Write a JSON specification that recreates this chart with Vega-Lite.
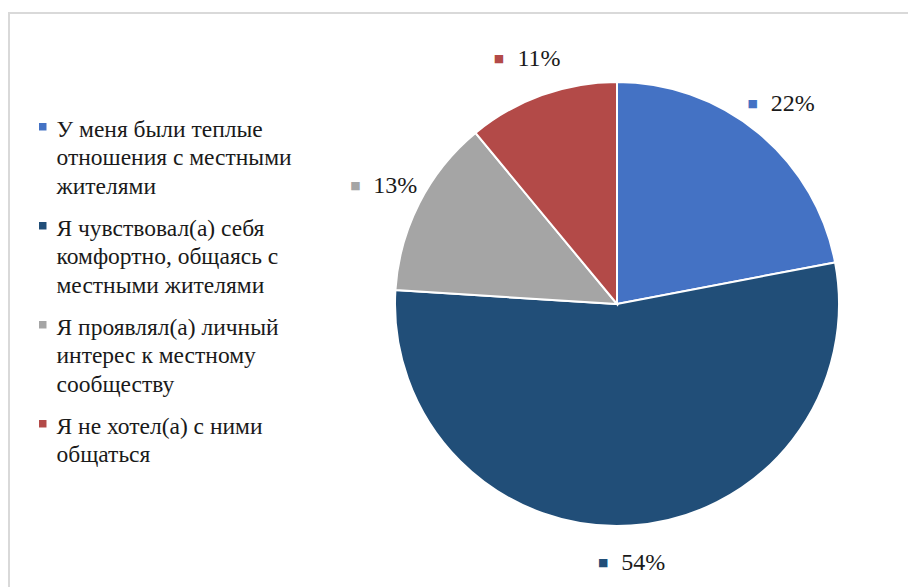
{
  "$schema": "https://vega.github.io/schema/vega-lite/v6.json",
  "width": 1216,
  "height": 582,
  "autosize": {"type": "none"},
  "padding": {"left": 9, "top": 13, "right": 0, "bottom": 0},
  "background": "white",
  "config": {"view": {"stroke": null}, "style": {"guide-label": {"lineHeight": 28.5, "dy": -9}}},
  "data": {"values": [
    {"idx": 1, "category": "У меня были теплые отношения с местными жителями", "value": 22, "label": "22%"},
    {"idx": 2, "category": "Я чувствовал(а) себя комфортно, общаясь с местными жителями", "value": 54, "label": "54%"},
    {"idx": 3, "category": "Я проявлял(а) личный интерес к местному сообществу", "value": 13, "label": "13%"},
    {"idx": 4, "category": "Я не хотел(а) с ними общаться", "value": 11, "label": "11%"}
  ]},
  "layer": [
    {
      "data": {"values": [{"frame": 1}]},
      "mark": {"type": "rect", "fill": null, "stroke": "#d9d9d9", "strokeWidth": 2},
      "encoding": {}
    },
    {
      "mark": {"type": "arc", "outerRadius": 222, "stroke": "white", "strokeWidth": 2},
      "encoding": {
        "theta": {"field": "value", "type": "quantitative", "stack": true},
        "order": {"field": "idx", "type": "ordinal"},
        "color": {
          "field": "category", "type": "nominal",
          "scale": {
            "domain": ["У меня были теплые отношения с местными жителями", "Я чувствовал(а) себя комфортно, общаясь с местными жителями", "Я проявлял(а) личный интерес к местному сообществу", "Я не хотел(а) с ними общаться"],
            "range": ["#4472C4", "#214E78", "#A5A5A5", "#B34A48"]
          },
          "legend": {
            "title": null,
            "orient": "none",
            "legendX": 22,
            "legendY": 102,
            "padding": 0,
            "symbolType": "square",
            "symbolSize": 56,
            "symbolStrokeWidth": 0,
            "labelFont": "Liberation Serif",
            "labelFontSize": 23.5,
            "labelColor": "#1a1a1a",
            "labelBaseline": "top",
            "labelLimit": 400,
            "labelOffset": 2,
            "rowPadding": 15,
            "labelExpr": "datum.label == 'У меня были теплые отношения с местными жителями' ? ['У меня были теплые', 'отношения с местными', 'жителями'] : datum.label == 'Я чувствовал(а) себя комфортно, общаясь с местными жителями' ? ['Я чувствовал(а) себя', 'комфортно, общаясь с', 'местными жителями'] : datum.label == 'Я проявлял(а) личный интерес к местному сообществу' ? ['Я проявлял(а) личный', 'интерес  к местному', 'сообществу'] : ['Я не хотел(а) с ними', 'общаться']"
          }
        }
      }
    },
    {
      "mark": {"type": "text", "radius": 260, "dx": -30, "font": "DejaVu Sans", "fontSize": 11, "align": "center", "baseline": "middle"},
      "encoding": {
        "theta": {"field": "value", "type": "quantitative", "stack": true},
        "order": {"field": "idx", "type": "ordinal"},
        "text": {"value": "■"},
        "color": {"field": "category", "type": "nominal", "legend": null}
      }
    },
    {
      "mark": {"type": "text", "radius": 260, "dx": 10, "font": "Liberation Serif", "fontSize": 24, "align": "center", "baseline": "middle", "color": "#1a1a1a"},
      "encoding": {
        "theta": {"field": "value", "type": "quantitative", "stack": true},
        "order": {"field": "idx", "type": "ordinal"},
        "text": {"field": "label"}
      }
    }
  ]
}
